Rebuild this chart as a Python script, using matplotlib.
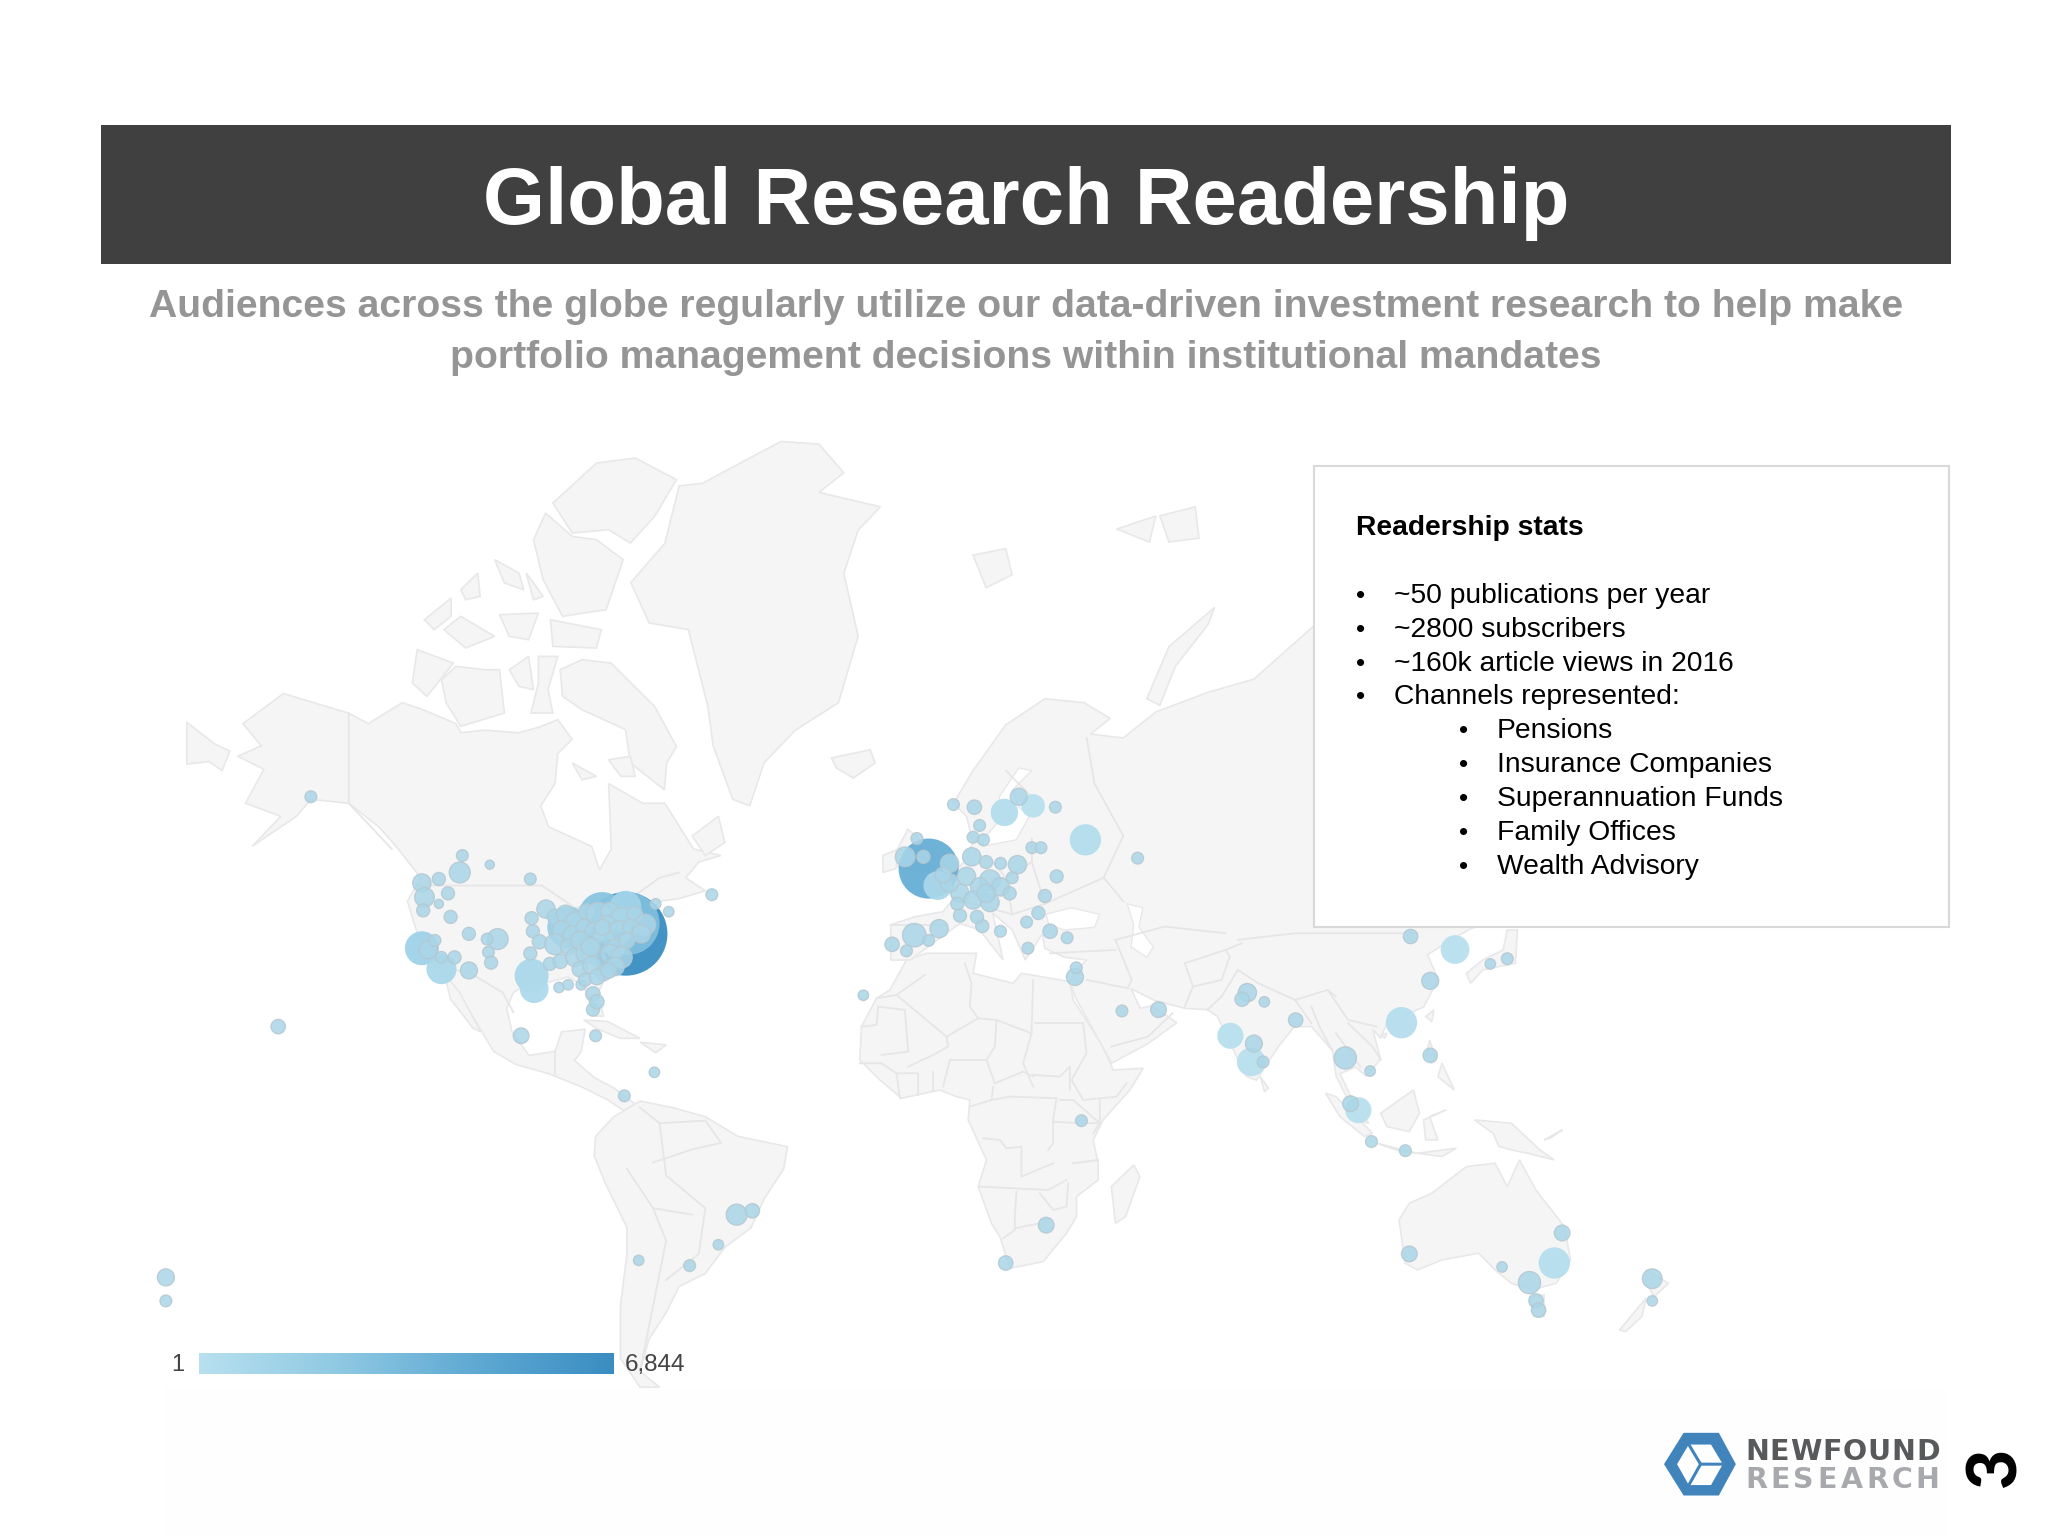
import numpy as np
import matplotlib
matplotlib.use("Agg")
import matplotlib.pyplot as plt
from matplotlib.colors import LinearSegmentedColormap
from matplotlib.patches import Polygon, Rectangle

# Slide with a world bubble map. Axes units are slide units, 1568 wide, 1176 high.
title = "Global Research Readership"
subtitle = ["Audiences across the globe regularly utilize our data-driven investment research to help make",
            "portfolio management decisions within institutional mandates"]
stats_head = "Readership stats"
stats_top = ["~50 publications per year", "~2800 subscribers", "~160k article views in 2016", "Channels represented:"]
stats_sub = ["Pensions", "Insurance Companies", "Superannuation Funds", "Family Offices", "Wealth Advisory"]
legend_min = "1"
legend_max = "6,844"

# outlines traced off enlarged views, these put them back in slide units
def north(pts):
    return [(130.2 + 0.371 * x, 329 + 0.2552 * y) for x, y in pts]

def asia(pts):
    return [(804 + 0.3125 * x, 689 + 0.2552 * y) for x, y in pts]

def afr(pts):
    return [(643 + 0.2552 * x, 712 + 0.2552 * y) for x, y in pts]

north_america = [(186,554),(217,531),(267,546),(282,554),(308,538),(323,543),(349,554),(353,561),(371,559),(397,561),
                 (412,557),(427,551),(438,566),(427,577),(425,600),(414,617),(420,633),(453,648),(459,666),(468,650),
                 (466,600),(492,615),(509,615),(531,650),(552,655),(535,660),(525,672),
                 (540,682),(520,688),(505,690),(497,700),(490,712),(476,728),(465,745),(458,760),(462,778),(455,778),
                 (447,755),(435,748),(420,752),(405,752),(393,760),(388,772),(392,790),(405,808),(425,805),(430,790),
                 (448,788),(445,805),(440,812),(455,825),(470,833),(490,848),(480,852),(465,842),(445,832),(420,822),
                 (395,815),(378,805),(360,775),(340,745),(328,735),(318,710),(312,690),(322,672),(305,650),(290,633),
                 (267,615),(238,612),(227,625),(193,648),(215,625),(188,615),(202,589),(182,579),(200,571)]
greenland = [(520,372),(538,370),(562,357),(598,338),(627,340),(646,362),(627,377),(674,388),(657,406),(646,439),
             (657,487),(642,538),(609,559),(585,584),(574,617),(561,612),(546,571),(542,541),(527,482),(497,477),
             (483,446),(509,416)]
south_america = [(456,870),(470,855),(490,843),(515,848),(540,855),(565,870),(603,878),(600,895),(585,918),(575,940),
                 (555,955),(540,975),(520,985),(510,1005),(497,1025),(490,1050),(505,1062),(490,1062),(475,1040),
                 (475,1000),(480,960),(480,940),(463,905),(455,885)]
africa = afr([(200,90),(260,70),(410,70),(400,130),(520,160),(545,130),(690,155),(700,210),(790,350),(820,420),(910,415),
              (870,480),(790,570),(760,630),(775,700),(775,750),(710,800),(710,860),(680,910),(610,995),(510,1015),
              (480,920),(455,880),(415,770),(440,690),(385,570),(390,510),(350,500),(300,480),(185,505),(120,450),
              (60,390),(65,290),(110,205),(150,180)])
eurasia = [(682,735),(682,708),(700,702),(722,698),(730,688),(722,676),(738,660),(745,645),(740,625),(730,615),(745,590),
           (770,555),(800,535),(830,538),(850,550),(835,562),(860,565),(885,545),(925,530),(960,520),(1005,480),(1100,440),
           (1300,560),(1300,690),(1160,700),(1126,711),(1107,722),(1093,731),(1101,750),(1090,771),(1062,783),(1057,795),
           (1051,788),(1057,811),(1046,824),(1038,817),(1026,822),(1037,845),(1048,860),(1040,858),(1023,824),(1020,804),
           (1004,786),(991,786),(979,801),(962,827),(954,824),(932,778),(924,773),(907,772),(884,766),(866,757),(873,772),
           (882,770),(901,783),(879,799),(851,814),(823,763),(819,752),(822,745),(832,735),(815,733),(800,726),(798,715),
           (785,735),(775,712),(760,699),(768,735),(750,712),(735,707),(717,720),(697,735)]
chukotka = [(143,553),(165,570),(176,575),(170,590),(160,583),(143,585)]
australia = asia([(855,960),(880,910),(935,880),(1020,800),(1090,790),(1120,860),(1150,780),(1190,870),(1260,980),
                  (1275,1080),(1240,1150),(1180,1170),(1130,1150),(1090,1110),(1050,1060),(960,1080),(900,1110),(870,1090)])
arctic = [north(s) for s in [
    [(790,220),(880,100),(960,85),(1045,150),(1000,260),(950,340),(905,300),(830,310)],
    [(750,330),(775,250),(830,320),(880,330),(935,390),(900,540),(810,560),(770,450)],
    [(670,390),(720,430),(730,480),(690,460)],
    [(735,430),(770,500),(750,510)],
    [(600,480),(635,430),(640,500),(610,510)],
    [(525,570),(580,505),(580,560),(545,600)],
    [(565,600),(600,560),(670,620),(610,655)],
    [(680,555),(760,550),(740,630),(700,620)],
    [(785,570),(890,600),(880,655),(790,650)],
    [(510,660),(585,700),(530,800),(500,760)],
    [(560,750),(590,710),(650,720),(680,720),(690,850),(600,890),(570,820)],
    [(700,720),(740,680),(750,780),(720,770)],
    [(760,680),(800,680),(780,780),(790,850),(745,850),(760,760)],
    [(805,720),(850,690),(910,700),(1000,830),(1045,950),(1025,1000),(1020,1080),(950,1000),(940,900),(850,840),(810,800)],
    [(830,1000),(880,1040),(850,1050)],
    [(905,990),(950,980),(960,1040),(930,1040)],
    [(1365,985),(1445,960),(1455,1000),(1410,1045),(1375,1015)],
]]
asia_islands = [asia(s) for s in [
    [(150,860),(205,795),(220,830),(185,950),(160,970)],
    [(1020,220),(1060,180),(1110,150),(1120,90),(1145,90),(1140,190),(1060,210),(1030,250)],
    [(920,350),(940,330),(935,365)],
    [(930,420),(945,480),(935,490),(920,470)],
    [(960,490),(990,570),(950,530)],
    [(810,640),(890,570),(905,640),(880,695),(825,680)],
    [(675,580),(700,590),(790,700),(770,710),(710,650)],
    [(800,730),(900,760),(860,755)],
    [(915,660),(970,630),(930,650),(950,720),(920,720)],
    [(900,760),(995,745),(960,770)],
    [(1040,660),(1130,670),(1200,750),(1235,780),(1170,760),(1130,750),(1100,740),(1085,700)],
    [(1210,720),(1255,690),(1225,715)],
    [(515,530),(535,565),(525,575)],
    [(810,405),(825,400),(820,415)],
    [(1175,1190),(1210,1185),(1210,1250),(1185,1250)],
    [(1460,1110),(1515,1150),(1480,1190),(1460,1150)],
    [(1395,1290),(1460,1195),(1450,1250),(1410,1295)],
]]
other_islands = [[(447,781),(465,782),(490,795),(475,795),(458,788)],
                 [(490,798),(510,800),(502,806)],
                 [(340,745),(352,760),(368,790),(362,787),(345,765)],
                 [(530,640),(550,625),(555,645),(540,655)],
                 [(682,660),(695,635),(702,640),(712,665),(695,668)],
                 [(676,655),(688,650),(686,665),(676,668)],
                 [(745,425),(770,420),(775,440),(755,450)],
                 [(878,535),(895,495),(930,465),(925,478),(900,510),(888,540)],
                 [(855,405),(885,395),(880,415)],
                 [(888,395),(915,388),(918,412),(895,415)]]
sea_patches = [[(752,648),(778,643),(788,625),(780,618),(775,605),(790,590),(780,588),(765,610),(768,625),(755,640)],
               [(801,700),(820,695),(842,700),(838,710),(815,712),(803,708)],
               [(863,692),(875,695),(872,710),(883,725),(878,733),(866,725),(868,708)]]
africa_borders = [afr(s) for s in [
    [(255,135),(170,195),(110,205)],
    [(375,100),(395,160),(390,230),(415,265)],
    [(170,195),(320,320)],
    [(320,320),(415,265),(470,270)],
    [(195,240),(205,365),(125,375)],
    [(65,290),(110,285),(115,230),(195,240)],
    [(320,320),(325,350),(280,375),(205,410)],
    [(470,270),(575,310),(580,150)],
    [(585,280),(730,280)],
    [(470,270),(465,350),(440,390),(330,390),(310,470)],
    [(575,310),(550,400),(580,470)],
    [(440,390),(465,460),(550,425),(580,440)],
    [(580,435),(660,440),(690,410),(690,480)],
    [(730,280),(740,370),(695,450),(730,510),(830,500),(860,460)],
    [(460,470),(455,510),(390,530)],
    [(510,500),(650,505),(640,570),(640,640),(625,660)],
    [(430,625),(480,630),(500,655),(545,650),(545,740),(640,700)],
    [(420,770),(625,780),(680,750)],
    [(530,785),(525,860),(525,900),(490,925)],
    [(525,895),(600,880)],
    [(600,790),(640,840),(680,830),(685,760)],
    [(660,510),(700,510),(780,580)],
    [(640,575),(720,580),(780,580)],
    [(780,510),(780,580),(760,610)],
    [(700,700),(775,690)],
    [(180,505),(170,430),(235,430),(235,495)],
    [(280,425),(280,480)],
    [(60,400),(125,400),(170,430)],
    [(510,500),(455,510)],
]]
asia_borders = [asia(s) for s in [
    [(0,160),(160,150)],
    [(160,120),(200,240),(190,265)],
    [(90,240),(190,265)],
    [(150,440),(240,410),(300,340)],
    [(330,190),(430,150),(470,130)],
    [(330,190),(350,260),(330,320)],
    [(350,260),(420,240),(440,170),(430,150)],
    [(420,290),(460,210),(510,250),(600,300),(680,270),(700,290)],
    [(385,330),(420,290)],
    [(600,300),(640,370)],
    [(640,320),(660,380),(690,450)],
    [(680,270),(730,360),(800,380)],
    [(730,370),(790,440),(810,480)],
    [(700,400),(760,500)],
    [(460,120),(600,100),(750,100),(900,100)],
    [(160,120),(280,80),(430,100)],
]]
north_borders = [[(320,678),(415,678),(440,695),(480,690),(505,672),(520,668)],
                 [(267,546),(267,615),(300,650)],
                 [(335,740),(360,745),(385,760),(393,775)],
                 [(425,805),(425,822)],
                 [(490,848),(505,860),(510,900),(540,925),(535,960),(510,980)],
                 [(505,860),(540,858),(552,875),(530,880),(500,890)],
                 [(480,895),(500,925),(510,950),(500,1000),(490,1050)],
                 [(500,925),(530,930)],
                 [(682,708),(725,708)],
                 [(730,688),(775,700),(800,692),(790,660),(790,642)],
                 [(745,680),(770,672),(790,660)],
                 [(760,660),(770,672),(775,700)],
                 [(800,692),(845,672),(860,690)],
                 [(845,672),(860,640),(838,600),(832,565)],
                 [(770,590),(790,610)]]

# largest bubbles, drawn first
big_x = [479, 481, 461, 711, 435, 479, 323, 338, 407, 409, 718, 831, 769, 1190, 1073, 1114, 958, 942, 1040, 791]
big_y = [715, 707, 701, 665, 710, 694, 726, 742, 747, 757, 678, 643, 622, 967, 783, 727, 813, 793, 850, 617]
big_r = [32, 24, 18, 23, 16, 12, 13, 11.5, 13, 11, 11, 12, 10.5, 12, 12, 11, 11, 10, 10, 9]
big_val = [6844, 2000, 1600, 3200, 1000, 700, 800, 500, 500, 400, 500, 300, 300, 250, 250, 200, 200, 200, 200, 200]

# smaller city bubbles
us_x = [328,352,354,375,406,323,336,325,324,343,336,345,359,381,373,374,376,359,348,338,333,418,407,408,413,406,
        399,456,421,429,428,435,445,454,454,457,502,512,545,
        425,433,441,449,458,467,476,486,494,430,438,447,456,465,474,483,491,425,435,444,453,462,471,480,
        440,449,458,467,476,444,453,462,471,448,457,466,452,461]
us_y = [727,668,655,662,673,676,673,687,697,684,692,702,715,719,719,729,737,743,733,733,720,696,703,713,721,730,
        793,793,738,736,756,754,754,761,773,767,692,698,685,
        702,700,706,698,700,698,704,700,708,712,716,710,714,708,714,710,715,723,725,720,726,720,726,720,
        733,730,735,730,733,742,739,745,740,750,748,743,725,710]
us_r = [7,8,4.5,3.5,4.5,7,5,7.5,5,5,3.5,5,5,8,4.5,4.5,5,6.5,5,4.5,4.5,7,5,5,5.5,5,
        6,4.5,5,5.5,4,4,4,5.5,5,5.5,4,4,4.5,
        6,7,8,6,9,7,9,6,8,7,7,6,8,7,9,6,7,8,6,7,6,9,7,6,
        7,8,6,7,8,6,7,6,7,5,6,6,7,6]
eur_x = [693,727,707,702,730,746,780,808,750,745,753,871,790,797,755,766,779,775,809,800,795,786,804,817,787,766,752,
         719,700,711,683,694,823,824,661,
         744,740,758,750,735,745,758,766,773,733,735,748,727,722,755]
eur_y = [656,661,656,642,616,618,610,618,632,641,643,657,649,649,660,661,662,672,671,686,699,706,713,718,726,713,709,
         711,716,720,723,728,748,741,762,
         656,671,674,679,684,689,691,679,684,692,701,702,676,670,684]
eur_r = [7.5,7,5,4.5,4.5,5.5,6.5,4.5,4.5,4.5,4.5,4.5,4.5,4.5,5,4.5,7,4.5,5,5,5,4.5,5.5,4.5,4.5,4.5,5,
         7,9,4.5,5.5,4.5,6.5,4.5,4,
         7,7,8,7,7,7,7,7,5,5,5,5,7,6,7]
rest_x = [238,213,127,127,478,501,564,576,550,528,489,828,801,770,859,887,955,968,951,960,967,992,1030,1049,1095,1034,
          1050,1076,1095,1080,1141,1154,1196,1079,1150,1171,1176,1178,1265,1265]
rest_y = [610,786,978,996,839,821,930,927,953,969,965,858,938,967,774,773,760,767,765,799,813,781,810,820,808,845,
          874,881,751,717,738,734,944,960,970,982,996,1003,979,996]
rest_r = [4.5,5.5,6.5,4.5,4.5,4,8,5.5,4,4.5,4,4.5,6,5.5,4.5,6,7,4,5.5,6.5,4.5,5.5,8.5,4,5.5,6,
          4.5,4.5,6.5,5.5,4,4.5,6,6,4,8.5,5.5,5.5,7.5,4]

scale = 2048 / 1568
reader_cmap = LinearSegmentedColormap.from_list("readers", ["#b8e0ef", "#8fc9e3", "#5fa9d3", "#3a8dc2"])

def radius_to_size(r):
    # slide units to scatter area in points^2
    return (np.asarray(r) * scale * 72 / 100 * 2) ** 2

def spaced_text(ax, x0, x1, y, s, **kw):
    # spread single letters evenly between x0 and x1
    rend = ax.figure.canvas.get_renderer()
    arts = [ax.text(0, y, c, ha="left", va="center", **kw) for c in s]
    widths = [a.get_window_extent(rend).width / scale for a in arts]
    gap = (x1 - x0 - sum(widths)) / (len(s) - 1)
    x = x0
    for a, w in zip(arts, widths):
        a.set_x(x)
        x += w + gap

fig = plt.figure(figsize=(20.48, 15.36), dpi=100)
ax = fig.add_axes([0, 0, 1, 1])
ax.set_xlim(0, 1568)
ax.set_ylim(1176, 0)
ax.axis("off")
ax.add_patch(Rectangle((125, 1062), 1365, 114, fc="#fefefe", ec="none", zorder=0))

# map
land_color = "#f5f5f6"
edge_color = "#e8e8ea"
land = [north_america, greenland, south_america, africa, eurasia, chukotka, australia] + arctic + asia_islands + other_islands
for shape in land:
    ax.add_patch(Polygon(shape, closed=True, fc=land_color, ec=edge_color, lw=1.2, zorder=1))
for shape in sea_patches:
    ax.add_patch(Polygon(shape, closed=True, fc="white", ec=edge_color, lw=1.0, zorder=1.1))
for line in north_borders + africa_borders + asia_borders:
    xs, ys = zip(*line)
    ax.plot(xs, ys, color="#e6e6e8", lw=1.3, zorder=1.2)

# bubbles
ax.scatter(big_x, big_y, s=radius_to_size(big_r), c=np.sqrt(big_val), cmap=reader_cmap,
           vmin=np.sqrt(200), vmax=np.sqrt(6844), edgecolors="none", alpha=0.95, zorder=3)
small_x = us_x + eur_x + rest_x
small_y = us_y + eur_y + rest_y
small_r = us_r + eur_r + rest_r
ax.scatter(small_x, small_y, s=radius_to_size(small_r), color="#a9d6e8", edgecolors="#b5c8d1",
           linewidths=1.0, alpha=0.85, zorder=4)

# legend bar
gradient = np.linspace(0, 1, 256).reshape(1, -1)
ax.imshow(gradient, extent=(152, 469, 1052, 1036), cmap=reader_cmap, aspect="auto", zorder=5)
ax.set_xlim(0, 1568)
ax.set_ylim(1176, 0)
ax.text(136, 1045, legend_min, ha="center", va="center", fontsize=17, color="#444444", family="Liberation Sans", zorder=6)
ax.text(478, 1045, legend_max, ha="left", va="center", fontsize=17.5, color="#444444", family="Liberation Sans", zorder=6)

# header
ax.add_patch(Rectangle((77, 96), 1417, 106, fc="#404040", ec="none", zorder=7))
ax.text(785.5, 155.5, title, ha="center", va="center", fontsize=57.4, fontweight="bold", color="white",
        family="Liberation Sans", zorder=8)
ax.text(785.5, 235, subtitle[0], ha="center", va="center", fontsize=28.2, fontweight="bold", color="#959595",
        family="Liberation Sans", zorder=8)
ax.text(785.5, 274, subtitle[1], ha="center", va="center", fontsize=28.2, fontweight="bold", color="#959595",
        family="Liberation Sans", zorder=8)

# stats box
text_kw = dict(ha="left", va="center", color="black", family="Liberation Sans", zorder=10)
ax.add_patch(Rectangle((1006, 357), 486, 353, fc="white", ec="#d9d9d9", lw=1.5, zorder=9))
ax.text(1038, 404, stats_head, fontsize=20.3, fontweight="bold", **text_kw)
y = 456
for line in stats_top:
    ax.text(1038, y, "•", fontsize=19, **text_kw)
    ax.text(1067, y, line, fontsize=20.3, **text_kw)
    y += 26
for line in stats_sub:
    ax.text(1117, y, "•", fontsize=19, **text_kw)
    ax.text(1146, y, line, fontsize=20.3, **text_kw)
    y += 26

# logo
logo_blue = "#4184bc"
ax.add_patch(Polygon([(1274,1121),(1289,1097),(1316,1097),(1329,1121),(1316,1145),(1289,1145)], fc=logo_blue, ec="none", zorder=10))
ax.add_patch(Polygon([(1284,1121),(1293,1106),(1310,1106),(1319,1121),(1310,1137),(1293,1137)], fc="white", ec="none", zorder=11))
ax.plot([1293,1302,1319], [1106,1121,1121], color=logo_blue, lw=2.2, zorder=12, solid_joinstyle="miter")
ax.plot([1302,1293], [1121,1137], color=logo_blue, lw=2.2, zorder=12)
spaced_text(ax, 1336, 1485, 1111.5, "NEWFOUND", fontsize=20.5, fontweight="bold", color="#58595b", family="DejaVu Sans", zorder=12)
spaced_text(ax, 1336, 1485, 1133, "RESEARCH", fontsize=20.5, fontweight="bold", color="#a7a9ac", family="DejaVu Sans", zorder=12)

# page number, rotated like the source slide
ax.text(1528, 1123, "3", ha="center", va="center", rotation=90, fontsize=50, fontweight="black", color="black",
        family="Lato", zorder=12)

fig.savefig("out.png", dpi=100)
